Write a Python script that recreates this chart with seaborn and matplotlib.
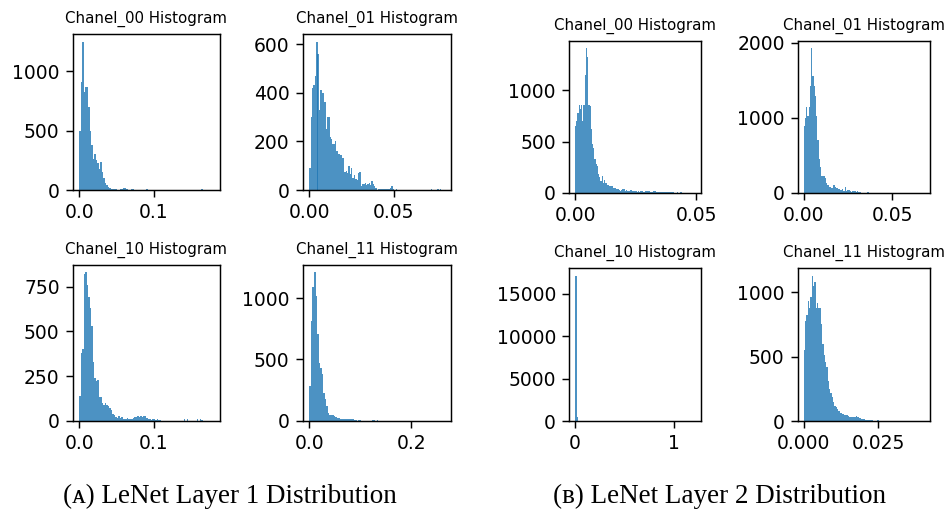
import numpy as np
import pandas as pd
import matplotlib
matplotlib.use("Agg")
import matplotlib.pyplot as plt
import seaborn as sns

# ---------------- data (bin counts) ----------------
titles = ["Chanel_00 Histogram", "Chanel_01 Histogram",
          "Chanel_10 Histogram", "Chanel_11 Histogram"]

# Layer 1
a00_max = 0.18
a00_counts = [500, 910, 1250, 830, 870, 870, 700, 500, 380, 260,
              300, 250, 230, 180, 240, 150, 100, 60, 40, 25,
              15, 10, 8, 5, 5, 3, 3, 5, 10, 15,
              15, 12, 10, 3, 3, 5, 10, 3, 0, 0,
              3, 0, 0, 0, 3, 8, 0, 0, 2, 0,
              0, 0, 2, 0, 0, 0, 0, 0, 0, 0,
              0, 0, 0, 0, 0, 2, 0, 0, 0, 0,
              0, 0, 0, 0, 0, 0, 0, 0, 0, 0,
              0, 0, 10, 0, 0, 0, 0, 0, 0, 1]

a01_max = 0.08
a01_counts = [90, 300, 420, 430, 470, 610, 560, 330, 410, 400,
              400, 360, 250, 300, 300, 220, 210, 190, 190, 200,
              160, 150, 150, 145, 130, 130, 75, 80, 70, 100,
              65, 90, 50, 60, 45, 40, 70, 75, 15, 25,
              25, 28, 20, 25, 30, 20, 35, 25, 15, 8,
              0, 5, 3, 5, 5, 5, 3, 5, 5, 3,
              8, 15, 3, 0, 5, 0, 0, 0, 0, 0,
              0, 0, 0, 0, 0, 0, 0, 0, 0, 0,
              0, 0, 0, 0, 0, 0, 0, 0, 0, 0,
              4, 0, 0, 0, 0, 4, 0, 4, 0, 0]

a10_max = 0.18
a10_counts = [140, 380, 400, 820, 830, 760, 690, 630, 530, 330,
              240, 220, 230, 130, 130, 100, 90, 100, 90, 80,
              70, 60, 40, 30, 20, 15, 25, 15, 20, 10,
              10, 12, 15, 12, 10, 10, 15, 20, 20, 25,
              20, 28, 20, 25, 25, 15, 10, 10, 5, 10,
              10, 5, 10, 5, 5, 0, 0, 0, 0, 0,
              0, 0, 0, 0, 0, 0, 0, 0, 0, 0,
              8, 0, 8, 0, 0, 0, 0, 0, 0, 10,
              0, 8, 5, 0, 0, 0, 0, 0, 0, 1]

a11_max = 0.264
a11_counts = [280, 810, 1090, 1210, 1020, 710, 470, 430, 380, 230,
              180, 120, 60, 50, 50, 50, 40, 30, 20, 20,
              15, 15, 15, 15, 15, 15, 15, 15, 10, 5,
              5, 0, 5, 5, 0, 0, 0, 0, 0, 0,
              0, 5, 5, 0, 5, 0, 0, 0, 0, 0,
              0, 0, 0, 0, 0, 0, 0, 0, 0, 0,
              0, 0, 0, 0, 0, 0, 0, 0, 0, 0,
              0, 0, 0, 0, 0, 0, 0, 0, 0, 0,
              0, 0, 0, 0, 0, 0, 0, 1]

# Layer 2
b00_max = 0.0495
b00_counts = [650, 700, 780, 860, 820, 860, 700, 860, 1150, 1410,
              1320, 860, 850, 620, 480, 440, 330, 280, 260, 185,
              160, 120, 170, 100, 130, 100, 80, 78, 70, 70,
              70, 50, 50, 45, 35, 40, 30, 20, 30, 35,
              35, 20, 25, 20, 15, 30, 30, 20, 15, 15,
              15, 10, 15, 10, 20, 15, 10, 10, 15, 20,
              20, 15, 10, 10, 20, 20, 15, 10, 10, 5,
              10, 5, 5, 10, 10, 10, 10, 10, 5, 5,
              5, 5, 0, 0, 5, 0, 0, 5, 0, 0,
              0, 0, 0, 0, 0, 0, 0, 0, 1]

b01_max = 0.0679
b01_counts = [890, 1000, 1150, 1030, 1140, 1430, 1930, 1560, 1430, 1290,
              1030, 700, 450, 340, 230, 230, 230, 200, 130, 110,
              80, 75, 70, 60, 100, 80, 60, 70, 50, 40,
              40, 50, 20, 80, 25, 40, 40, 20, 15, 25,
              25, 25, 15, 20, 10, 10, 5, 5, 5, 5,
              5, 10, 10, 5, 3, 3, 0, 0, 0, 0,
              0, 0, 0, 0, 0, 0, 0, 0, 0, 0,
              0, 0, 0, 0, 0, 0, 0, 0, 0, 0,
              0, 0, 0, 0, 0, 0, 0, 0, 0, 0,
              0, 0, 0, 0, 0, 0, 1]

b10_max = 1.212
b10_counts = [17170, 450, 0, 0, 0, 0, 0, 0, 0, 0,
              0, 0, 0, 0, 0, 0, 0, 0, 0, 0,
              0, 0, 0, 0, 0, 0, 0, 0, 0, 0,
              0, 0, 0, 0, 0, 0, 0, 0, 0, 0,
              0, 0, 0, 0, 0, 0, 0, 0, 0, 0,
              0, 0, 0, 0, 0, 0, 0, 0, 0, 0,
              0, 0, 0, 0, 0, 0, 0, 0, 0, 1]

b11_max = 0.0403
b11_counts = [550, 780, 820, 930, 880, 960, 1130, 1050, 1080, 880,
              920, 880, 880, 750, 600, 510, 455, 420, 310, 250,
              220, 190, 150, 120, 110, 90, 80, 60, 60, 55,
              50, 45, 45, 35, 30, 28, 30, 34, 30, 38,
              30, 25, 22, 18, 15, 12, 10, 8, 8, 6,
              5, 5, 3, 3, 3, 8, 0, 0, 0, 0,
              0, 0, 0, 0, 0, 0, 0, 0, 0, 0,
              0, 0, 0, 0, 0, 0, 0, 0, 0, 0,
              0, 0, 0, 0, 0, 0, 0, 0, 0, 1]

xticks = {
    "a00": [0.0, 0.1], "a01": [0.0, 0.05], "a10": [0.0, 0.1], "a11": [0.0, 0.2],
    "b00": [0.0, 0.05], "b01": [0.0, 0.05], "b10": [0, 1], "b11": [0.0, 0.025],
}
xticklabels = {
    "a00": ["0.0", "0.1"], "a01": ["0.00", "0.05"], "a10": ["0.0", "0.1"],
    "a11": ["0.0", "0.2"], "b00": ["0.00", "0.05"], "b01": ["0.00", "0.05"],
    "b10": ["0", "1"], "b11": ["0.000", "0.025"],
}
yticks = {
    "a00": [0, 500, 1000], "a01": [0, 200, 400, 600], "a10": [0, 250, 500, 750],
    "a11": [0, 500, 1000], "b00": [0, 500, 1000], "b01": [0, 1000, 2000],
    "b10": [0, 5000, 10000, 15000], "b11": [0, 500, 1000],
}
captions = ["(\u1d00) LeNet Layer 1 Distribution", "(\u0299) LeNet Layer 2 Distribution"]

# ---------------- layout (pixel boxes: left, top, right, bottom) ----------------
W, H = 945, 511
boxes = {
    "a00": (72.7, 34.3, 220.0, 190.0), "a01": (302.7, 34.3, 450.7, 190.0),
    "a10": (72.7, 265.0, 220.0, 420.7), "a11": (302.7, 265.0, 450.7, 420.7),
    "b00": (569.0, 41.0, 701.0, 193.0), "b01": (797.7, 41.0, 930.0, 193.0),
    "b10": (569.0, 268.3, 701.0, 421.0), "b11": (797.7, 268.3, 930.0, 421.0),
}
panels = {
    "a00": (a00_max, a00_counts, titles[0]), "a01": (a01_max, a01_counts, titles[1]),
    "a10": (a10_max, a10_counts, titles[2]), "a11": (a11_max, a11_counts, titles[3]),
    "b00": (b00_max, b00_counts, titles[0]), "b01": (b01_max, b01_counts, titles[1]),
    "b10": (b10_max, b10_counts, titles[2]), "b11": (b11_max, b11_counts, titles[3]),
}

plt.rcParams["font.family"] = ["DejaVu Sans"]
TICK_FS = 13.5
fig = plt.figure(figsize=(W / 100, H / 100), dpi=100)

for key, (xmax, counts, title) in panels.items():
    l, t, r, b = boxes[key]
    ax = fig.add_axes([l / W, 1 - b / H, (r - l) / W, (b - t) / H])
    nb = len(counts)
    width = xmax / nb
    centers = [width * (i + 0.5) for i in range(nb)]
    df = pd.DataFrame({"value": centers, "count": counts})
    sns.histplot(data=df, x="value", weights="count", bins=nb,
                 binrange=(0.0, xmax), ax=ax, color="#1f77b4",
                 linewidth=0, alpha=0.8)
    ax.set_xlabel("")
    ax.set_ylabel("")
    ax.set_title(title, fontsize=10.8, pad=8)
    ax.set_xticks(xticks[key], xticklabels[key], fontsize=TICK_FS)
    ax.set_yticks(yticks[key], [str(v) for v in yticks[key]], fontsize=TICK_FS)
    ax.tick_params(length=4.7, width=1.05, pad=4.7, colors="black")
    for s in ax.spines.values():
        s.set_color("black")
        s.set_linewidth(1.05)

fig.text(230 / W, 1 - 496 / H, captions[0], ha="center", va="center",
         fontsize=19.5, family=["Liberation Serif", "DejaVu Serif"])
fig.text(720 / W, 1 - 496 / H, captions[1], ha="center", va="center",
         fontsize=19.5, family=["Liberation Serif", "DejaVu Serif"])

fig.savefig("out.png", dpi=100)
